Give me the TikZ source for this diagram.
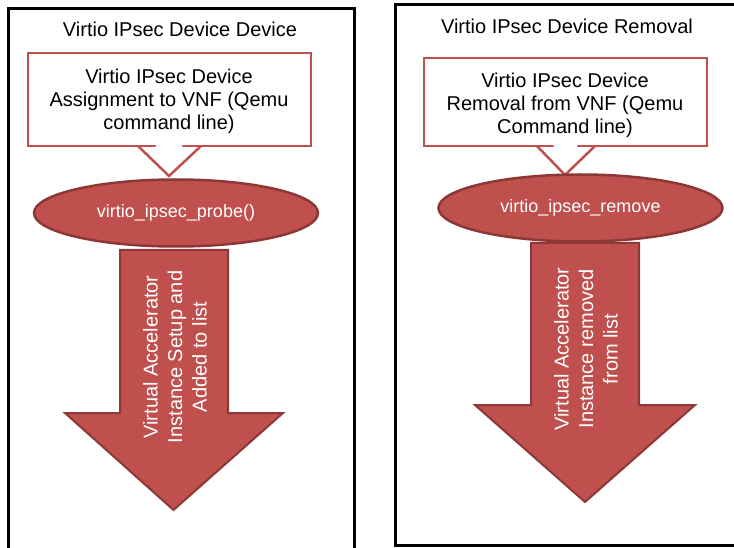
\documentclass[tikz,border=0pt]{standalone}
\usepackage{fontspec}
\setmainfont{Liberation Sans}
\usetikzlibrary{shapes.geometric}
\definecolor{accred}{HTML}{C0504D}
\definecolor{accdark}{HTML}{8C3836}
\begin{document}
\begin{tikzpicture}[x=1pt,y=-1pt,
  frame/.style={draw=black,line width=3pt},
  callout/.style={draw=accred,line width=2.5pt,line join=miter,line cap=round},
  blob/.style={ellipse,draw=accdark,fill=accred,line width=2.5pt,minimum width=284pt,minimum height=67pt,inner sep=0pt,text=white,font=\fontsize{18}{21}\selectfont},
  bigarrow/.style={draw=accdark,fill=accred,line width=2pt,line join=miter},
  title/.style={font=\fontsize{20}{24}\selectfont},
  ctext/.style={align=center,font=\fontsize{20}{23.3}\selectfont},
  atext/.style={align=center,rotate=90,text=white,font=\fontsize{20}{24.5}\selectfont}]

\useasboundingbox (0,0) rectangle (734,548);

% frames
\draw[frame] (8,560) -- (8,8.5) -- (354,8.5) -- (354,560);
\draw[frame] (745,4.5) -- (395,4.5) -- (395,545) -- (745,545);

% titles
\node[title,anchor=base] (t1) at (180,37) {Virtio IPsec Device Device};
\node[title,anchor=base] (t2) at (567,33.5) {Virtio IPsec Device Removal};

% left column
\fill[white] (28,53) -- (311,53) -- (311,146) -- (201,146) -- (169,176) -- (138,146) -- (28,146) -- cycle;
\draw[callout] (155,146) -- (28,146) -- (28,53) -- (311,53) -- (311,146) -- (183,146);
\draw[callout,line cap=butt] (138,146) -- (169,176) -- (201,146);
\node[ctext] (c1) at (169,101.5) {Virtio IPsec Device\\Assignment to VNF (Qemu\\command line)};
\draw[bigarrow] (120,250) -- (228,250) -- (228,413) -- (283,413) -- (173.5,510) -- (65,413) -- (120,413) -- cycle;
\node[blob] (e1) at (176,213) {virtio\_ipsec\_probe()};
\node[atext] (a1) at (175,357) {Virtual Accelerator\\Instance Setup and\\Added to list};

% right column
\fill[white] (424,58) -- (707,58) -- (707,146) -- (595,146) -- (565,175) -- (537,146) -- (424,146) -- cycle;
\draw[callout] (553,146) -- (424,146) -- (424,58) -- (707,58) -- (707,146) -- (578,146);
\draw[callout,line cap=butt] (537,146) -- (565,175) -- (595,146);
\node[ctext] (c2) at (565,105.2) {Virtio IPsec Device\\Removal from VNF (Qemu\\Command line)};
\draw[bigarrow] (531,243) -- (639,243) -- (639,405) -- (695,405) -- (585,502) -- (475,405) -- (531,405) -- cycle;
\node[blob] (e2) at (580.5,208) {virtio\_ipsec\_remove};
\node[atext] (a2) at (586,349) {Virtual Accelerator\\Instance removed\\from list};
\end{tikzpicture}
\end{document}
